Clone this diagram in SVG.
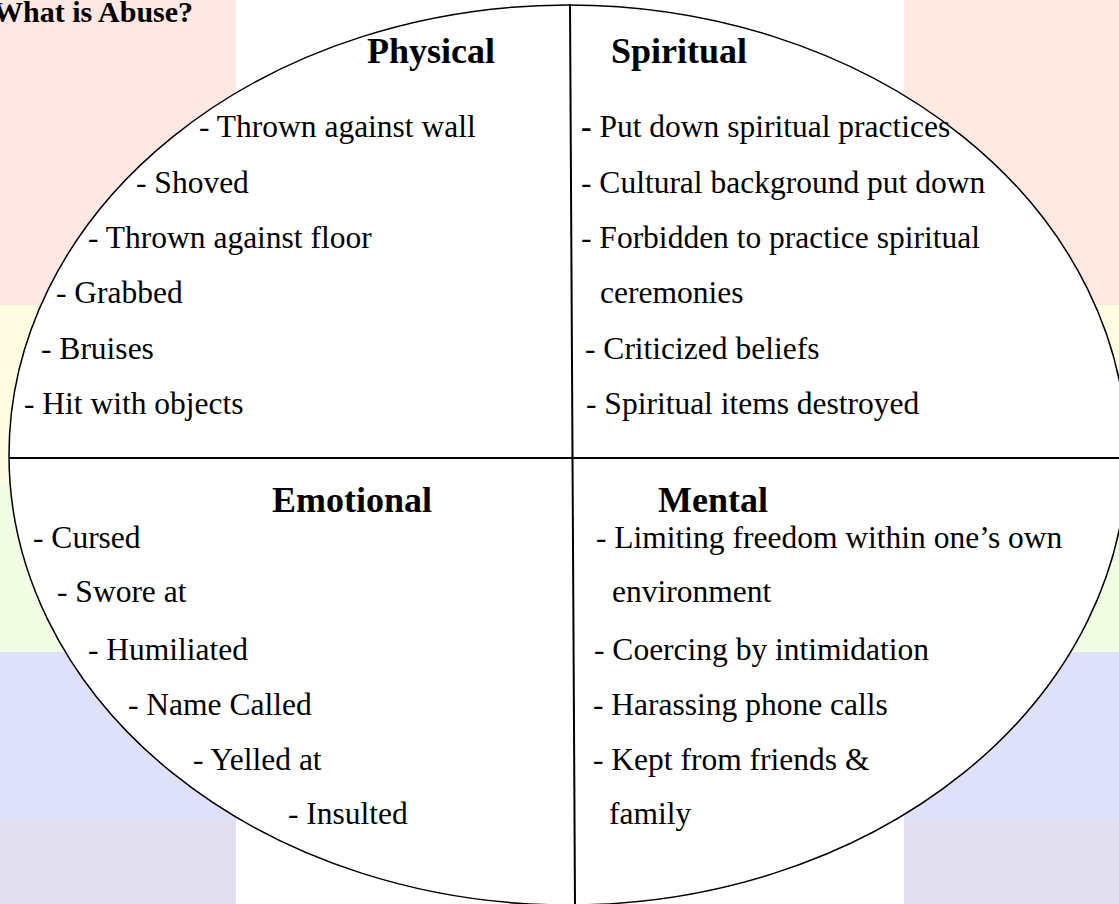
<svg xmlns="http://www.w3.org/2000/svg" width="1119" height="904" viewBox="0 0 1119 904">
<style>
.t{font-family:"Liberation Serif","Times New Roman",serif;font-size:31.5px;fill:#000}
.h{font-family:"Liberation Serif","Times New Roman",serif;font-size:36px;font-weight:bold;fill:#000}
.ttl{font-family:"Liberation Serif","Times New Roman",serif;font-size:30px;font-weight:bold;fill:#000}
.ln{stroke:#000;stroke-width:2;fill:none}
</style>
<rect x="0" y="0" width="1119" height="904" fill="#ffffff"/>
<g id="background">
<rect x="0" y="0" width="236" height="305" fill="#fde8e3"/>
<rect x="0" y="305" width="236" height="178" fill="#fefde1"/>
<rect x="0" y="483" width="236" height="169" fill="#f2fce3"/>
<rect x="0" y="652" width="236" height="168" fill="#dfe0f9"/>
<rect x="0" y="820" width="236" height="84" fill="#e1dff0"/>
<rect x="904" y="0" width="215" height="305" fill="#fde8e2"/>
<rect x="904" y="305" width="215" height="178" fill="#fefde1"/>
<rect x="904" y="483" width="215" height="169" fill="#f2fce3"/>
<rect x="904" y="652" width="215" height="168" fill="#dfe0f9"/>
<rect x="904" y="820" width="215" height="84" fill="#e1dff0"/>
</g>
<text class="ttl" x="-7" y="22">What is Abuse?</text>
<ellipse id="wheel" cx="568" cy="455" rx="559" ry="450" fill="#ffffff" stroke="#000" stroke-width="1.5"/>
<g id="connectors">
<line class="ln" x1="570" y1="4" x2="575" y2="905"/>
<line class="ln" x1="9" y1="458" x2="1119" y2="458"/>
</g>
<g id="physical">
<text class="h" x="367" y="63">Physical</text>
<text class="t" x="199" y="137">- Thrown against wall</text>
<text class="t" x="136" y="193">- Shoved</text>
<text class="t" x="88" y="248">- Thrown against floor</text>
<text class="t" x="56" y="303">- Grabbed</text>
<text class="t" x="41" y="359">- Bruises</text>
<text class="t" x="24" y="414">- Hit with objects</text>
</g>
<g id="spiritual">
<text class="h" x="611" y="63">Spiritual</text>
<text class="t" x="581" y="137"><tspan font-weight="bold">-</tspan> Put down spiritual practices</text>
<text class="t" x="581" y="193">- Cultural background put down</text>
<text class="t" x="581" y="248">- Forbidden to practice spiritual</text>
<text class="t" x="600" y="303">ceremonies</text>
<text class="t" x="585" y="359">- Criticized beliefs</text>
<text class="t" x="586" y="414">- Spiritual items destroyed</text>
</g>
<g id="emotional">
<text class="h" x="272" y="512">Emotional</text>
<text class="t" x="33" y="548">- Cursed</text>
<text class="t" x="57" y="602">- Swore at</text>
<text class="t" x="88" y="660">- Humiliated</text>
<text class="t" x="128" y="715">- Name Called</text>
<text class="t" x="193" y="770">- Yelled at</text>
<text class="t" x="288" y="824">- Insulted</text>
</g>
<g id="mental">
<text class="h" x="658" y="512">Mental</text>
<text class="t" x="596" y="548">- Limiting freedom within one’s own</text>
<text class="t" x="612" y="602">environment</text>
<text class="t" x="594" y="660">- Coercing by intimidation</text>
<text class="t" x="593" y="715">- Harassing phone calls</text>
<text class="t" x="593" y="770">- Kept from friends &amp;</text>
<text class="t" x="609" y="824">family</text>
</g>
</svg>
